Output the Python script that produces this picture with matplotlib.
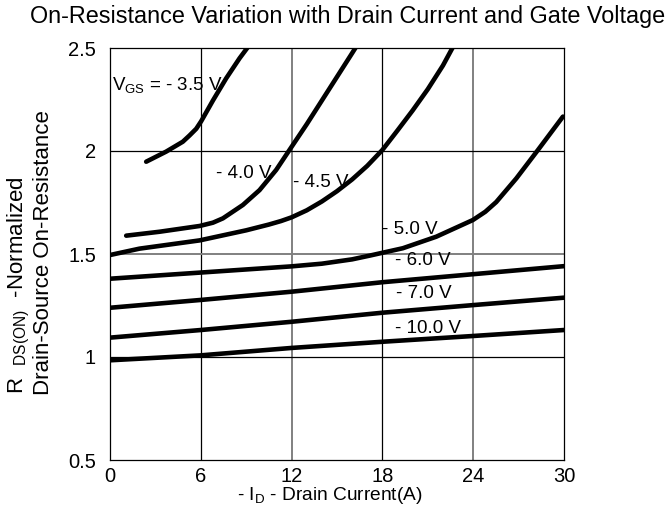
import matplotlib
matplotlib.use("Agg")
import matplotlib.pyplot as plt

plt.rcParams['font.family'] = ['Liberation Sans', 'DejaVu Sans']
plt.rcParams['mathtext.fontset'] = 'custom'
plt.rcParams['mathtext.rm'] = 'Liberation Sans'
plt.rcParams['mathtext.it'] = 'Liberation Sans'
plt.rcParams['mathtext.bf'] = 'Liberation Sans'

# ---- data ----
x_35 = [2.39, 3.71, 4.81, 5.25, 5.70, 6.03, 6.80, 7.68, 8.56, 9.22]
y_35 = [1.948, 1.997, 2.045, 2.075, 2.108, 2.145, 2.245, 2.353, 2.45, 2.515]

x_40 = [1.07, 3.27, 5.92, 6.8, 7.46, 8.78, 9.88, 10.98, 11.86, 13.0, 14.0, 15.0, 16.0, 16.3]
y_40 = [1.589, 1.608, 1.636, 1.652, 1.673, 1.738, 1.81, 1.908, 2.005, 2.13, 2.245, 2.36, 2.475, 2.51]

x_45 = [0, 1.95, 5.92, 9.0, 10.5, 11.3, 12.0, 13.0, 14.0, 15.0, 16.0, 17.0, 18.0, 19.0, 20.0, 21.0, 22.0, 22.7]
y_45 = [1.495, 1.526, 1.566, 1.615, 1.643, 1.66, 1.678, 1.712, 1.755, 1.805, 1.862, 1.928, 2.005, 2.1, 2.197, 2.30, 2.415, 2.51]

x_50 = [0, 4, 8, 12, 14, 16, 17.15, 19.35, 21.56, 23.98, 24.8, 25.52, 26.85, 28.28, 29.93]
y_50 = [1.38, 1.40, 1.42, 1.44, 1.453, 1.474, 1.492, 1.528, 1.584, 1.665, 1.705, 1.752, 1.867, 2.005, 2.167]

x_60 = [0, 6, 12, 18, 24, 30]
y_60 = [1.239, 1.277, 1.317, 1.363, 1.402, 1.441]

x_70 = [0, 6, 12, 18, 24, 30]
y_70 = [1.094, 1.131, 1.171, 1.215, 1.252, 1.288]

x_100 = [0, 6, 12, 18, 24, 30]
y_100 = [0.984, 1.008, 1.044, 1.074, 1.102, 1.131]

series = [(x_35, y_35), (x_40, y_40), (x_45, y_45), (x_50, y_50),
          (x_60, y_60), (x_70, y_70), (x_100, y_100)]

labels = ["V$_{GS}$ = - 3.5 V", "- 4.0 V", "- 4.5 V", "- 5.0 V", "- 6.0 V", "- 7.0 V", "- 10.0 V"]
label_pos = [(0.15, 2.32), (7.0, 1.89), (12.1, 1.845), (18.0, 1.617),
             (18.8, 1.467), (18.9, 1.31), (18.8, 1.14)]

x_ticks = [0, 6, 12, 18, 24, 30]
y_ticks = [0.5, 1, 1.5, 2, 2.5]
y_tick_labels = ["0.5", "1", "1.5", "2", "2.5"]

# ---- figure ----
fig = plt.figure(figsize=(6.69, 5.2), dpi=100)
ax = fig.add_axes([110 / 669, 1 - 460 / 520, (564 - 110) / 669, (460 - 48) / 520])

ax.set_xlim(0, 30)
ax.set_ylim(0.5, 2.5)

# grid lines
for xv in [6, 18]:
    ax.axvline(xv, color='black', lw=0.9, zorder=1)
for xv in [12, 24]:
    ax.axvline(xv, color='#808080', lw=1.4, zorder=1)
for yv in [1.0, 2.0]:
    ax.axhline(yv, color='black', lw=0.9, zorder=1)
ax.axhline(1.5, color='#808080', lw=1.4, zorder=1)

for xs, ys in series:
    ax.plot(xs, ys, color='black', lw=3.3, solid_capstyle='round',
            solid_joinstyle='round', zorder=3, clip_on=True)

for txt, (tx, ty) in zip(labels, label_pos):
    ax.text(tx, ty, txt, fontsize=13.5, ha='left', va='center', zorder=4)

ax.set_xticks(x_ticks)
ax.set_xticklabels([str(v) for v in x_ticks])
ax.set_yticks(y_ticks)
ax.set_yticklabels(y_tick_labels)
ax.tick_params(length=0, labelsize=14.5)
ax.tick_params(axis='x', pad=5)
ax.tick_params(axis='y', pad=10)
for sp in ax.spines.values():
    sp.set_color('black')
    sp.set_linewidth(0.9)

fig.text(348 / 669, 1 - 17 / 520, "On-Resistance Variation with Drain Current and Gate Voltage",
         fontsize=16.8, ha='center', va='center')
fig.text(330 / 669, 1 - 496 / 520, "- I$_D$ - Drain Current(A)", fontsize=13.8,
         ha='center', va='center')
fig.text(19 / 669, 1 - 394 / 520, "R  $_{DS(ON)}$  -Normalized", fontsize=16,
         rotation=90, ha='center', va='bottom')
fig.text(44 / 669, 1 - 395 / 520, "Drain-Source On-Resistance", fontsize=16,
         rotation=90, ha='center', va='bottom')

fig.savefig("out.png", dpi=100)
